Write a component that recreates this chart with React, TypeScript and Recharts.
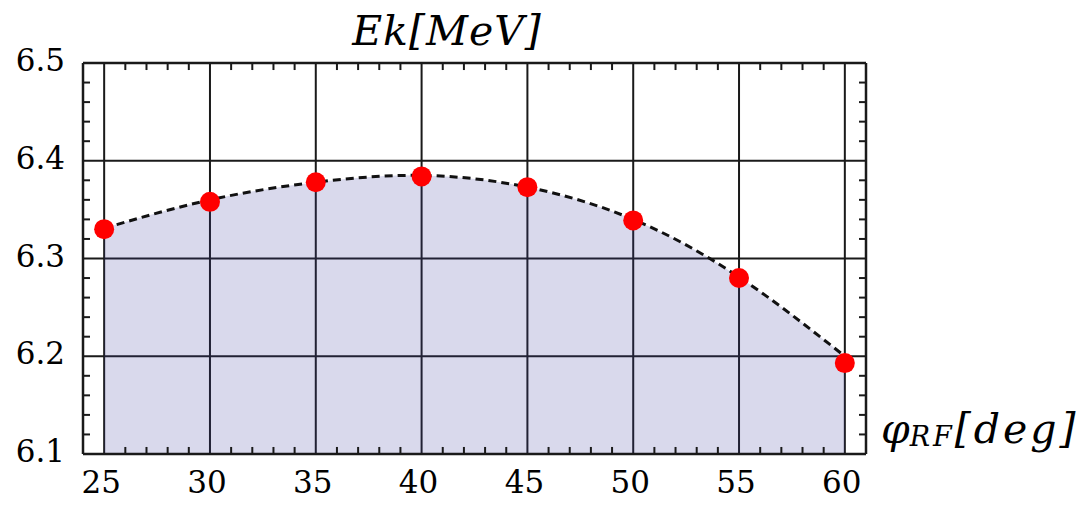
import React from 'react';
import { ComposedChart, Area, Line, XAxis, YAxis, CartesianGrid, ReferenceLine } from 'recharts';

// phase angle (deg) and measured kinetic energy (MeV)
const angles = [25, 30, 35, 40, 45, 50, 55, 60];
const ekPoints = [6.33, 6.358, 6.378, 6.384, 6.373, 6.339, 6.28, 6.193];
// dashed fit curve at the same angles
const ekFit = [6.331, 6.36, 6.378, 6.385, 6.373, 6.34, 6.281, 6.2];

const xDomain: [number, number] = [24, 61];
const yDomain: [number, number] = [6.1, 6.5];
const xTicks = [25, 30, 35, 40, 45, 50, 55, 60];
const yTicks = [6.1, 6.2, 6.3, 6.4, 6.5];
const xMinorTicks = [
  26, 27, 28, 29, 31, 32, 33, 34, 36, 37, 38, 39, 41, 42, 43, 44,
  46, 47, 48, 49, 51, 52, 53, 54, 56, 57, 58, 59,
];
const yMinorTicks = [
  6.12, 6.14, 6.16, 6.18, 6.22, 6.24, 6.26, 6.28,
  6.32, 6.34, 6.36, 6.38, 6.42, 6.44, 6.46, 6.48,
];

const data = angles.map((a, i) => ({ angle: a, ek: ekPoints[i], fit: ekFit[i] }));

const W = 1079;
const H = 506;
const INK = '#1a1a1a';
const SERIF = "'DejaVu Serif', serif";
const tickFont = { fontSize: 31, fill: '#000', fontFamily: 'DejaVu Serif' };
// inward minor tick length in data units (~7px)
const TX = 0.33;
const TY = 0.0072;

export default function App() {
  const [x0, x1] = xDomain;
  const [y0, y1] = yDomain;
  const minor = { stroke: INK, strokeWidth: 2, xAxisId: 'x', yAxisId: 'y' };
  return (
    <div style={{ position: 'absolute', left: 0, top: 0, width: W, height: H, background: '#fff', fontFamily: SERIF }}>
      <ComposedChart width={W} height={H} data={data} margin={{ top: 63, right: 213, left: 0, bottom: 0 }}>
        <CartesianGrid xAxisId="x" yAxisId="y" stroke={INK} strokeWidth={2} />
        <XAxis
          xAxisId="x"
          dataKey="angle"
          type="number"
          domain={xDomain}
          ticks={xTicks}
          interval={0}
          height={52}
          tickSize={0}
          tickMargin={17}
          axisLine={false}
          tickLine={false}
          tick={{ ...tickFont, dx: -3 }}
        />
        <YAxis
          yAxisId="y"
          type="number"
          domain={yDomain}
          ticks={yTicks}
          interval={0}
          width={83}
          tickSize={0}
          tickMargin={18}
          axisLine={false}
          tickLine={false}
          tick={{ ...tickFont, dy: -3 }}
          tickFormatter={(v: number) => v.toFixed(1)}
        />
        <Area
          xAxisId="x"
          yAxisId="y"
          dataKey="fit"
          type="natural"
          fill="#3f3f9f"
          fillOpacity={0.2}
          stroke="#111"
          strokeWidth={3}
          strokeDasharray="8 5"
          dot={false}
          activeDot={false}
          isAnimationActive={false}
        />
        {/* frame */}
        <ReferenceLine xAxisId="x" yAxisId="y" x={x0} stroke={INK} strokeWidth={2.5} />
        <ReferenceLine xAxisId="x" yAxisId="y" x={x1} stroke={INK} strokeWidth={2.5} />
        <ReferenceLine xAxisId="x" yAxisId="y" y={y0} stroke={INK} strokeWidth={2.5} />
        <ReferenceLine xAxisId="x" yAxisId="y" y={y1} stroke={INK} strokeWidth={2.5} />
        {/* inward minor ticks */}
        {xMinorTicks.map((t) => (
          <ReferenceLine key={`b${t}`} {...minor} segment={[{ x: t, y: y0 }, { x: t, y: y0 + TY }]} />
        ))}
        {xMinorTicks.map((t) => (
          <ReferenceLine key={`t${t}`} {...minor} segment={[{ x: t, y: y1 }, { x: t, y: y1 - TY }]} />
        ))}
        {yMinorTicks.map((t) => (
          <ReferenceLine key={`l${t}`} {...minor} segment={[{ x: x0, y: t }, { x: x0 + TX, y: t }]} />
        ))}
        {yMinorTicks.map((t) => (
          <ReferenceLine key={`r${t}`} {...minor} segment={[{ x: x1, y: t }, { x: x1 - TX, y: t }]} />
        ))}
        <Line
          xAxisId="x"
          yAxisId="y"
          dataKey="ek"
          stroke="none"
          dot={{ r: 10, fill: '#ff0000', stroke: 'none' }}
          activeDot={false}
          isAnimationActive={false}
        />
      </ComposedChart>
      <svg width={W} height={H} style={{ position: 'absolute', left: 0, top: 0, pointerEvents: 'none' }}>
        <text x={447} y={45} textAnchor="middle" fontFamily="DejaVu Serif" fontStyle="italic" fontSize={41} letterSpacing={1} fill="#000">
          Ek[MeV]
        </text>
        <text x={881} y={443} fontFamily="DejaVu Serif" fontStyle="italic" fontSize={41} fill="#000">
          φ
          <tspan fontSize={27} dy={3} letterSpacing={3}>RF</tspan>
          <tspan fontSize={41} dy={-3} letterSpacing={3}>[deg]</tspan>
        </text>
      </svg>
    </div>
  );
}
